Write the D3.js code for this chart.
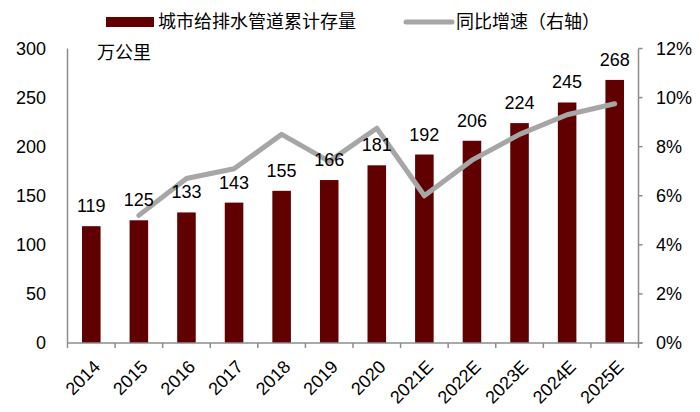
<!DOCTYPE html>
<html><head><meta charset="utf-8">
<script src="https://cdn.jsdelivr.net/npm/d3@7"></script>
<style>
body{margin:0;background:#fff;}
text{font-family:"Liberation Sans",Arial,"Noto Sans CJK SC",sans-serif;}
</style></head>
<body><svg id="c" width="700" height="412"></svg>
<script>
const categories = ["2014","2015","2016","2017","2018","2019","2020","2021E","2022E","2023E","2024E","2025E"];
const stockValues = [119,125,133,143,155,166,181,192,206,224,245,268];
const growthValues = [null,5.2,6.7,7.1,8.5,7.4,8.75,6.0,7.45,8.5,9.3,9.75];
const leftTicks = [0,50,100,150,200,250,300];
const rightTicks = [0,2,4,6,8,10,12];
const seriesNames = ["城市给排水管道累计存量","同比增速（右轴）"];
const unitLabel = "万公里";

const svg = d3.select("#c");
const L = 67.5, R = 638.5, T = 48.5, B = 343;
const x = d3.scaleBand().domain(categories).range([L,R]).paddingInner(0.61).paddingOuter(0.305);
const xb = d3.scaleBand().domain(categories).range([L,R]);
const y = d3.scaleLinear().domain([0,300]).range([B,T]);
const y2 = d3.scaleLinear().domain([0,12]).range([B,T]);
const axisColor = "#8c8c8c";
const barColor = "#600000";

// axes lines
svg.append("line").attr("x1",L).attr("x2",L).attr("y1",T).attr("y2",B).attr("stroke",axisColor).attr("stroke-width",1.5);
svg.append("line").attr("x1",R).attr("x2",R).attr("y1",T).attr("y2",B).attr("stroke",axisColor).attr("stroke-width",1.5);

// left tick labels
svg.selectAll(".lt").data(leftTicks).enter().append("text")
  .attr("x",46).attr("y",d=>y(d)).attr("dy","0.35em").attr("text-anchor","end")
  .attr("font-size",18).attr("fill","#000").text(d=>d);
// right ticks
svg.selectAll(".rtk").data(rightTicks).enter().append("line")
  .attr("x1",R).attr("x2",R+4).attr("y1",d=>y2(d)).attr("y2",d=>y2(d)).attr("stroke",axisColor).attr("stroke-width",1.5);
svg.selectAll(".rt").data(rightTicks).enter().append("text")
  .attr("x",656).attr("y",d=>y2(d)).attr("dy","0.35em").attr("text-anchor","start")
  .attr("font-size",18).attr("fill","#000").text(d=>d+"%");

// bars
svg.selectAll(".bar").data(categories).enter().append("rect")
  .attr("x",d=>x(d)).attr("width",x.bandwidth())
  .attr("y",(d,i)=>y(stockValues[i])).attr("height",(d,i)=>B-y(stockValues[i]))
  .attr("fill",barColor);

// bottom axis
svg.append("line").attr("x1",L).attr("x2",R+4).attr("y1",B).attr("y2",B).attr("stroke",axisColor).attr("stroke-width",1.5);
const bounds = categories.map(c=>xb(c)).concat([R]);
svg.selectAll(".bt").data(bounds).enter().append("line")
  .attr("x1",d=>d).attr("x2",d=>d).attr("y1",B).attr("y2",B+5).attr("stroke",axisColor).attr("stroke-width",1.5);

// x labels
svg.selectAll(".xl").data(categories).enter().append("text")
  .attr("transform",d=>`translate(${xb(d)+xb.bandwidth()/2+1},${B+16}) rotate(-45)`)
  .attr("text-anchor","end").attr("dy","0.7em").attr("font-size",18).attr("fill","#000").text(d=>d);

// line
const pts = categories.map((c,i)=>({c,v:growthValues[i]})).filter(d=>d.v!=null);
svg.append("path").datum(pts)
  .attr("d",d3.line().x(d=>xb(d.c)+xb.bandwidth()/2).y(d=>y2(d.v)))
  .attr("fill","none").attr("stroke","#a6a6a6").attr("stroke-width",5)
  .attr("stroke-linejoin","round").attr("stroke-linecap","round");

// data labels
svg.selectAll(".dl").data(categories).enter().append("text")
  .attr("x",d=>xb(d)+xb.bandwidth()/2).attr("y",(d,i)=>y(stockValues[i])-14)
  .attr("text-anchor","middle").attr("font-size",18).attr("fill","#000").text((d,i)=>stockValues[i]);

// unit
svg.append("text").attr("x",97).attr("y",53).attr("dy","0.35em").attr("font-size",18).attr("fill","#000").text(unitLabel);

// legend
svg.append("rect").attr("x",106).attr("y",17).attr("width",48).attr("height",10).attr("fill",barColor);
svg.append("text").attr("x",158).attr("y",22).attr("dy","0.35em").attr("font-size",18).attr("fill","#000").text(seriesNames[0]);
svg.append("line").attr("x1",406).attr("x2",452).attr("y1",22).attr("y2",22).attr("stroke","#a6a6a6").attr("stroke-width",5).attr("stroke-linecap","round");
svg.append("text").attr("x",456).attr("y",22).attr("dy","0.35em").attr("font-size",18).attr("fill","#000").text(seriesNames[1]);
</script></body></html>
